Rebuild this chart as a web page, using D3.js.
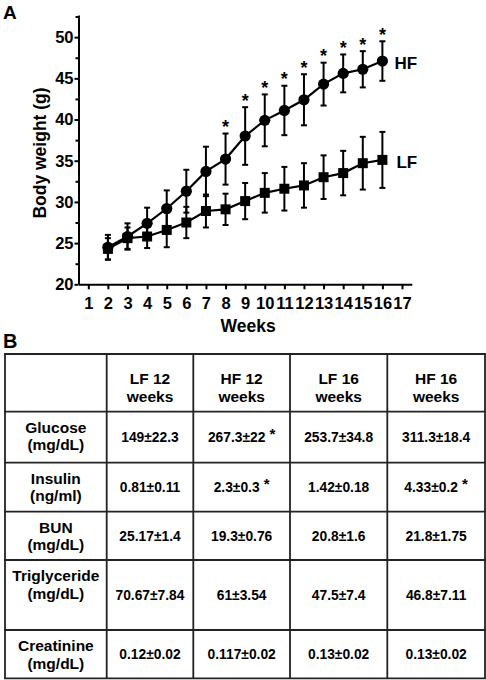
<!DOCTYPE html>
<html>
<head>
<meta charset="utf-8">
<script src="https://cdn.jsdelivr.net/npm/d3@7"></script>
<style>
  html, body { margin: 0; padding: 0; background: #fff; }
  svg { display: block; font-family: "Liberation Sans", Arial, Helvetica, sans-serif; font-weight: bold; }
</style>
</head>
<body>
<svg id="chart" width="486" height="680"></svg>
<script>
// ---------- Data ----------
const weeks = [2, 3, 4, 5, 6, 7, 8, 9, 10, 11, 12, 13, 14, 15, 16];
const hfMean = [24.5, 25.8, 27.4, 29.2, 31.3, 33.7, 35.2, 38.0, 39.9, 41.1, 42.4, 44.3, 45.6, 46.1, 47.1];
const hfErr  = [1.5, 1.6, 1.9, 2.2, 2.6, 3.0, 3.1, 3.5, 3.15, 3.0, 3.1, 2.6, 2.3, 2.2, 2.4];
const lfMean = [24.3, 25.6, 25.8, 26.6, 27.5, 28.9, 29.1, 30.1, 31.1, 31.6, 32.0, 33.0, 33.5, 34.7, 35.1];
const lfErr  = [1.3, 1.3, 1.4, 2.1, 1.9, 2.0, 1.9, 2.2, 2.4, 2.65, 2.7, 2.65, 2.7, 3.2, 3.4];
const starWeeks = [8, 9, 10, 11, 12, 13, 14, 15, 16];
const xTicks = [1, 2, 3, 4, 5, 6, 7, 8, 9, 10, 11, 12, 13, 14, 15, 16, 17];
const yTicks = [20, 25, 30, 35, 40, 45, 50];
const yMinorTicks = [22.5, 27.5, 32.5, 37.5, 42.5, 47.5, 52.5];

const tableHeaders = [["", ""], ["LF 12", "weeks"], ["HF 12", "weeks"], ["LF 16", "weeks"], ["HF 16", "weeks"]];
const rowLabels = [["Glucose", "(mg/dL)"], ["Insulin", "(ng/ml)"], ["BUN", "(mg/dL)"], ["Triglyceride", "(mg/dL)"], ["Creatinine", "(mg/dL)"]];
const rowValues = [
  ["149±22.3", "267.3±22", "253.7±34.8", "311.3±18.4"],
  ["0.81±0.11", "2.3±0.3", "1.42±0.18", "4.33±0.2"],
  ["25.17±1.4", "19.3±0.76", "20.8±1.6", "21.8±1.75"],
  ["70.67±7.84", "61±3.54", "47.5±7.4", "46.8±7.11"],
  ["0.12±0.02", "0.117±0.02", "0.13±0.02", "0.13±0.02"]
];
const rowStars = [
  [false, true, false, false],
  [false, true, false, true],
  [false, false, false, false],
  [false, false, false, false],
  [false, false, false, false]
];

// ---------- Panel A ----------
const svg = d3.select("#chart");
const x = d3.scaleLinear().domain([0.5, 17.5]).range([78.5, 411.8]);
const y = d3.scaleLinear().domain([20, 52.7]).range([284.3, 14.9]);

svg.append("text").attr("x", 3).attr("y", 19).attr("font-size", 19).text("A");

// y axis
const yAxis = svg.append("g").attr("transform", `translate(${x.range()[0]},0)`)
  .call(d3.axisLeft(y).tickValues(yTicks).tickSize(4).tickSizeOuter(0).tickPadding(1));
yAxis.selectAll("text").attr("font-size", 16.5).attr("font-family", "Liberation Sans, Arial, sans-serif").attr("font-weight", "bold").attr("fill", "#000");
const yMinor = svg.append("g").attr("transform", `translate(${x.range()[0]},0)`)
  .call(d3.axisLeft(y).tickValues(yMinorTicks).tickSize(3).tickFormat(""));
yMinor.select(".domain").remove();

// x axis
const xAxis = svg.append("g").attr("transform", `translate(0,${y(20)})`)
  .call(d3.axisBottom(x).tickValues(xTicks).tickSize(5).tickSizeOuter(0).tickPadding(8));
xAxis.selectAll("text").attr("font-size", 16.5).attr("font-family", "Liberation Sans, Arial, sans-serif").attr("font-weight", "bold").attr("fill", "#000");

svg.selectAll(".domain, .tick line").attr("stroke", "#000").attr("stroke-width", 2);

// axis titles
svg.append("text").attr("x", (x(0.5) + x(17.5)) / 2 + 3).attr("y", 332)
  .attr("text-anchor", "middle").attr("font-size", 17.5).text("Weeks");
svg.append("text").attr("transform", `translate(46,153) rotate(-90)`)
  .attr("text-anchor", "middle").attr("font-size", 17.5).text("Body weight (g)");

function drawSeries(mean, err, shape) {
  const g = svg.append("g");
  const pts = weeks.map((w, i) => ({ w, m: mean[i], e: err[i] }));
  pts.forEach(p => {
    g.append("line").attr("x1", x(p.w)).attr("x2", x(p.w))
      .attr("y1", y(p.m + p.e)).attr("y2", y(p.m - p.e))
      .attr("stroke", "#000").attr("stroke-width", 2);
    [p.m + p.e, p.m - p.e].forEach(v => {
      g.append("line").attr("x1", x(p.w) - 3).attr("x2", x(p.w) + 3)
        .attr("y1", y(v)).attr("y2", y(v))
        .attr("stroke", "#000").attr("stroke-width", 2);
    });
  });
  g.append("path").datum(pts)
    .attr("d", d3.line().x(p => x(p.w)).y(p => y(p.m)))
    .attr("fill", "none").attr("stroke", "#000").attr("stroke-width", 2.2);
  if (shape === "circle") {
    g.selectAll("circle").data(pts).join("circle")
      .attr("cx", p => x(p.w)).attr("cy", p => y(p.m)).attr("r", 5.6).attr("fill", "#000");
  } else {
    g.selectAll("rect").data(pts).join("rect")
      .attr("x", p => x(p.w) - 5).attr("y", p => y(p.m) - 5)
      .attr("width", 10).attr("height", 10).attr("fill", "#000");
  }
  return pts;
}

drawSeries(lfMean, lfErr, "square");
drawSeries(hfMean, hfErr, "circle");

// significance stars
starWeeks.forEach(w => {
  const i = weeks.indexOf(w);
  svg.append("text").attr("x", x(w)).attr("y", y(hfMean[i] + hfErr[i]) - 0.5)
    .attr("text-anchor", "middle").attr("font-size", 18).text("*");
});

// series labels
const last = weeks.length - 1;
svg.append("text").attr("x", x(weeks[last]) + 12).attr("y", y(hfMean[last]) + 8)
  .attr("font-size", 17).text("HF");
svg.append("text").attr("x", x(weeks[last]) + 14).attr("y", y(lfMean[last]) + 8)
  .attr("font-size", 17).text("LF");

// ---------- Panel B ----------
svg.append("text").attr("x", 3).attr("y", 348).attr("font-size", 20).text("B");

const colEdges = [5, 106.7, 193.3, 290, 387.3, 485];
const rowEdges = [354, 411.7, 462.7, 511.7, 560, 630, 678.3];
const tbl = svg.append("g");

tableHeaders.forEach((h, c) => {
  const cx = (colEdges[c] + colEdges[c + 1]) / 2;
  const t = tbl.append("text").attr("text-anchor", "middle").attr("font-size", 15.5);
  t.append("tspan").attr("x", cx).attr("y", 384).attr("textLength", null).text(h[0]);
  t.append("tspan").attr("x", cx).attr("y", 402).text(h[1]);
});

rowLabels.forEach((lab, r) => {
  const top = rowEdges[r + 1], bot = rowEdges[r + 2];
  const cx0 = (colEdges[0] + colEdges[1]) / 2;
  const t = tbl.append("text").attr("text-anchor", "middle").attr("font-size", 15.5);
  t.append("tspan").attr("x", cx0).attr("y", top + 21).text(lab[0]);
  t.append("tspan").attr("x", cx0).attr("y", top + 38.5).text(lab[1]);
  rowValues[r].forEach((v, c) => {
    const cx = (colEdges[c + 1] + colEdges[c + 2]) / 2;
    const vt = tbl.append("text").attr("text-anchor", "middle").attr("font-size", 13.8)
      .attr("x", cx).attr("y", (top + bot) / 2 + 5);
    vt.append("tspan").text(v);
    if (rowStars[r][c]) {
      vt.append("tspan").attr("dy", -3).attr("font-size", 15).text(" *");
    }
  });
});

colEdges.forEach(cx => {
  tbl.append("line").attr("x1", cx).attr("x2", cx).attr("y1", rowEdges[0]).attr("y2", rowEdges[rowEdges.length - 1])
    .attr("stroke", "#222").attr("stroke-width", 1.8);
});
rowEdges.forEach(ry => {
  tbl.append("line").attr("x1", colEdges[0] - 0.9).attr("x2", colEdges[colEdges.length - 1] + 0.9).attr("y1", ry).attr("y2", ry)
    .attr("stroke", "#222").attr("stroke-width", 1.8);
});
</script>
</body>
</html>
